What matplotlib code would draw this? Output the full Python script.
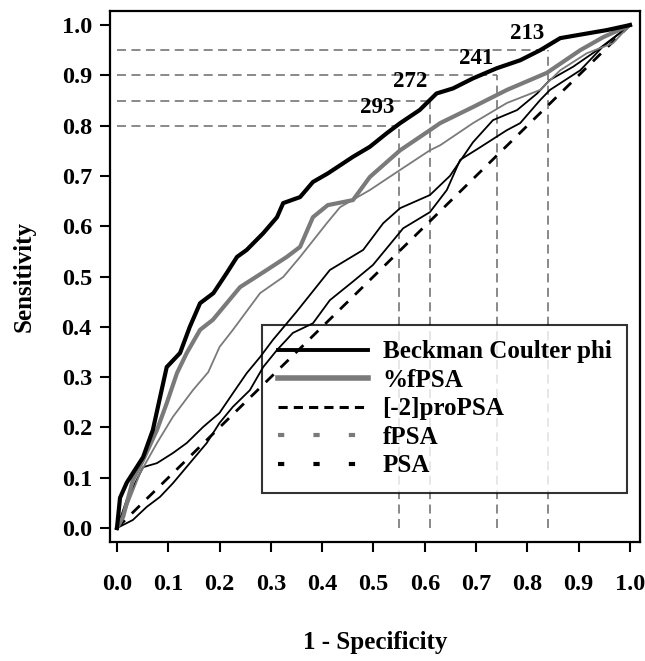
"""ROC curves: Beckman Coulter phi vs %fPSA, [-2]proPSA, fPSA and PSA -> out.png."""

import matplotlib

matplotlib.use("Agg")
import matplotlib.pyplot as plt
from matplotlib.lines import Line2D

plt.rcParams["font.family"] = ["Liberation Serif", "DejaVu Serif"]
plt.rcParams["font.weight"] = "bold"

# ROC curves (x = 1 - specificity, y = sensitivity)
phi_fpr = [0, 0.006, 0.019, 0.051, 0.07, 0.084, 0.097, 0.123, 0.142, 0.162, 0.188, 0.214,
           0.234, 0.253, 0.285, 0.312, 0.324, 0.357, 0.382, 0.411, 0.46, 0.493, 0.526, 0.552,
           0.59, 0.623, 0.655, 0.694, 0.74, 0.786, 0.825, 0.864, 0.915, 0.955, 1.0]
phi_tpr = [0, 0.06, 0.09, 0.141, 0.195, 0.26, 0.32, 0.348, 0.40, 0.447, 0.467, 0.507,
           0.539, 0.553, 0.586, 0.618, 0.646, 0.658, 0.688, 0.705, 0.738, 0.758, 0.785, 0.805,
           0.831, 0.864, 0.874, 0.894, 0.914, 0.93, 0.95, 0.974, 0.983, 0.99, 1.0]

pct_fpr = [0, 0.012, 0.031, 0.051, 0.078, 0.097, 0.117, 0.136, 0.162, 0.187, 0.24, 0.292,
           0.331, 0.357, 0.382, 0.411, 0.46, 0.493, 0.552, 0.61, 0.63, 0.694, 0.76, 0.838,
           0.903, 0.948, 1.0]
pct_tpr = [0, 0.022, 0.095, 0.135, 0.195, 0.248, 0.308, 0.348, 0.394, 0.414, 0.479, 0.513,
           0.539, 0.559, 0.618, 0.642, 0.652, 0.698, 0.751, 0.791, 0.805, 0.837, 0.871, 0.905,
           0.95, 0.976, 1.0]

fpsa_fpr = [0, 0.019, 0.045, 0.078, 0.109, 0.148, 0.178, 0.2, 0.226, 0.279, 0.324, 0.357,
            0.409, 0.435, 0.493, 0.552, 0.61, 0.63, 0.694, 0.76, 0.825, 0.864, 0.916, 0.967, 1.0]
fpsa_tpr = [0, 0.042, 0.109, 0.169, 0.221, 0.274, 0.31, 0.36, 0.394, 0.467, 0.499, 0.539,
            0.606, 0.638, 0.672, 0.712, 0.751, 0.761, 0.805, 0.845, 0.871, 0.91, 0.944, 0.964, 1.0]

pro_fpr = [0, 0.019, 0.051, 0.078, 0.109, 0.136, 0.168, 0.2, 0.226, 0.253, 0.279, 0.304,
           0.35, 0.415, 0.48, 0.519, 0.552, 0.61, 0.649, 0.694, 0.733, 0.78, 0.819, 0.844,
           0.889, 0.936, 0.98, 1.0]
pro_tpr = [0, 0.056, 0.121, 0.129, 0.149, 0.169, 0.201, 0.229, 0.268, 0.308, 0.34, 0.374,
           0.43, 0.513, 0.553, 0.606, 0.636, 0.662, 0.70, 0.767, 0.811, 0.831, 0.864, 0.891,
           0.917, 0.95, 0.984, 1.0]

psa_fpr = [0, 0.031, 0.058, 0.084, 0.109, 0.142, 0.175, 0.2, 0.226, 0.259, 0.285, 0.312,
           0.343, 0.382, 0.415, 0.46, 0.499, 0.558, 0.61, 0.643, 0.669, 0.708, 0.76, 0.786,
           0.825, 0.844, 0.903, 0.947, 1.0]
psa_tpr = [0, 0.016, 0.042, 0.062, 0.089, 0.129, 0.169, 0.209, 0.241, 0.274, 0.32, 0.354,
           0.388, 0.407, 0.453, 0.49, 0.523, 0.596, 0.628, 0.672, 0.732, 0.757, 0.791, 0.805,
           0.851, 0.871, 0.91, 0.957, 1.0]

# phi cut-offs and the sensitivity / 1-specificity they give
cut_labels = ["293", "272", "241", "213"]
cut_sens = [0.80, 0.85, 0.90, 0.95]
cut_fpr = [0.55, 0.61, 0.74, 0.84]
label_pos = [(0.507, 0.837), (0.571, 0.887), (0.70, 0.934), (0.80, 0.984)]

legend_labels = ["Beckman Coulter phi", "%fPSA", "[-2]proPSA", "fPSA", "PSA"]

GUIDE = "#808080"
GREY = "#7a7a7a"

fig = plt.figure(figsize=(6.45, 6.61), dpi=100)
ax = fig.add_axes((0.1705, 0.18, 0.8217, 0.8034))

# guide lines to the cut-off points
for s, f in zip(cut_sens, cut_fpr):
    ax.plot([0, f], [s, s], color=GUIDE, lw=1.3, ls=(0, (5, 3)), zorder=1)
    ax.plot([f, f], [0, s], color=GUIDE, lw=1.3, ls=(0, (5, 3)), zorder=1)
for txt, (x, y) in zip(cut_labels, label_pos):
    ax.text(x, y, txt, fontsize=16.5, fontweight="bold", ha="center", va="center", zorder=5)

# chance line
ax.plot([0, 1], [0, 1], color="black", lw=2.0, ls=(0, (4, 3.5)), zorder=3)

ax.plot(psa_fpr, psa_tpr, color="black", lw=1.3, zorder=3)
ax.plot(pro_fpr, pro_tpr, color="black", lw=1.3, zorder=3)
ax.plot(fpsa_fpr, fpsa_tpr, color=GREY, lw=1.3, zorder=3)
ax.plot(pct_fpr, pct_tpr, color=GREY, lw=3.0, zorder=3)
ax.plot(phi_fpr, phi_tpr, color="black", lw=3.0, zorder=4)

handles = [
    Line2D([], [], color="black", lw=2.8),
    Line2D([], [], color=GREY, lw=4.0),
    Line2D([], [], color="black", lw=2.2, ls=(0, (3, 2))),
    Line2D([], [], color=GREY, lw=3.0, ls=(0, (1.5, 7))),
    Line2D([], [], color="black", lw=3.0, ls=(0, (1.5, 7))),
]
leg = ax.legend(handles, legend_labels, loc="upper left", bbox_to_anchor=(0.287, 0.409),
                fontsize=18, frameon=True, fancybox=False, shadow=False, handlelength=3.6,
                handletextpad=0.6, labelspacing=0.22, borderpad=0.62, borderaxespad=0)
leg.get_frame().set_edgecolor("black")
leg.get_frame().set_linewidth(1.5)
leg.set_zorder(2)
for t in leg.get_texts():
    t.set_fontweight("bold")

ax.set_xlim(-0.0136, 1.0195)
ax.set_ylim(-0.0278, 1.028)
ax.set_xticks([i / 10 for i in range(11)])
ax.set_yticks([i / 10 for i in range(11)])
ax.set_xticklabels([f"{i / 10:.1f}" for i in range(11)])
ax.set_yticklabels([f"{i / 10:.1f}" for i in range(11)])
ax.tick_params(direction="out", length=7, width=1.5, labelsize=17.5, pad=16)
ax.tick_params(axis="y", pad=6)
for sp in ax.spines.values():
    sp.set_linewidth(1.6)

ax.set_xlabel("1 - Specificity", fontsize=18, fontweight="bold", labelpad=26)
ax.set_ylabel("Sensitivity", fontsize=18, fontweight="bold", labelpad=19)

fig.savefig("out.png", dpi=100)
plt.close(fig)
